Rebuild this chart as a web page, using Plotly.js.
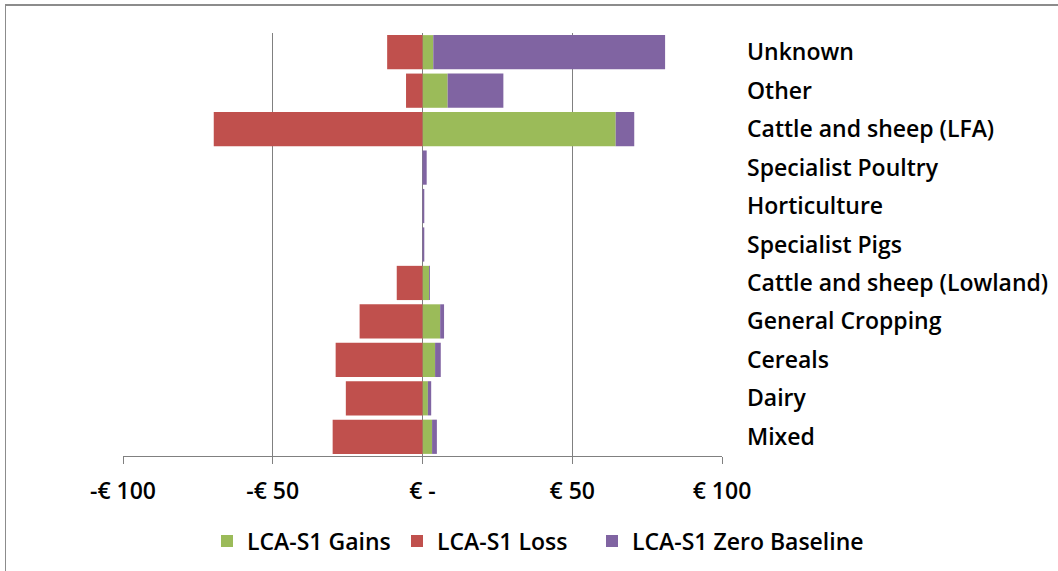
<!DOCTYPE html>
<html><head><meta charset="utf-8">
<script src="https://cdn.plot.ly/plotly-3.0.1.min.js"></script>
<style>html,body{margin:0;padding:0;background:#fff;overflow:hidden}
#frame{position:absolute;left:5px;top:4px;width:1100px;height:620px;border-left:1px solid #8c8c8c;border-top:2px solid #8c8c8c;pointer-events:none;z-index:5}
</style></head><body>
<div id="chart" style="width:1058px;height:571px;position:absolute;left:0;top:0"></div>
<div id="frame"></div>
<script>
const categories = ['Mixed','Dairy','Cereals','General Cropping','Cattle and sheep (Lowland)','Specialist Pigs','Horticulture','Specialist Poultry','Cattle and sheep (LFA)','Other','Unknown'];
const gains = [3.2, 1.8, 4.2, 5.9, 2.2, 0, 0, 0, 64.5, 8.4, 3.6];
const loss = [-30, -25.6, -29, -21, -8.6, 0, 0, 0, -69.7, -5.5, -11.8];
const zeroBaseline = [1.6, 1.1, 1.9, 1.3, 0.3, 0.6, 0.6, 1.4, 6.2, 18.6, 77.4];
const tickVals = [-100, -50, 0, 50, 100];
const tickText = ['-€ 100', '-€ 50', '€ -', '€ 50', '€ 100'];

const font = "Open Sans, Noto Sans, sans-serif";
const fs = 23;
const fw = 600;
const traces = [
  {type:'bar', orientation:'h', name:'LCA-S1 Gains', y:categories, x:gains, marker:{color:'#9BBB59'}, legend:'legend'},
  {type:'bar', orientation:'h', name:'LCA-S1 Loss', y:categories, x:loss, marker:{color:'#C0504D'}, legend:'legend2'},
  {type:'bar', orientation:'h', name:'LCA-S1 Zero Baseline', y:categories, x:zeroBaseline, marker:{color:'#8064A2'}, legend:'legend3'}
];
function leg(px) {
  return {orientation:'h', xref:'container', yref:'container', x:px/1058, xanchor:'left', y:1-541/571, yanchor:'middle',
          itemwidth:30, font:{size:fs, family:font, weight:fw}, bgcolor:'rgba(0,0,0,0)'};
}
const layout = {
  width:1058, height:571,
  margin:{l:123, r:336, t:33, b:115},
  barmode:'relative', bargap:0.11,
  paper_bgcolor:'#fff', plot_bgcolor:'#fff',
  font:{family:font, color:'#000', size:fs, weight:fw},
  showlegend:true,
  legend:leg(207), legend2:leg(397), legend3:leg(592),
  xaxis:{range:[-100,100], tickvals:tickVals, ticktext:tickText, showgrid:true, gridcolor:'#808080', gridwidth:1,
         zeroline:true, zerolinecolor:'#808080', zerolinewidth:1, showline:true, linecolor:'#808080',
         ticks:'outside', ticklen:7, tickcolor:'#808080', ticklabelstandoff:7,
         tickfont:{size:fs, family:font, weight:fw}, fixedrange:true, automargin:false},
  yaxis:{type:'category', categoryorder:'array', categoryarray:categories, side:'right', showgrid:false, zeroline:false,
         showline:false, ticks:'', ticklabelstandoff:24, tickfont:{size:fs, family:font, weight:fw}, automargin:false}
};
Plotly.newPlot('chart', traces, layout, {displayModeBar:false, staticPlot:true});
</script></body></html>
